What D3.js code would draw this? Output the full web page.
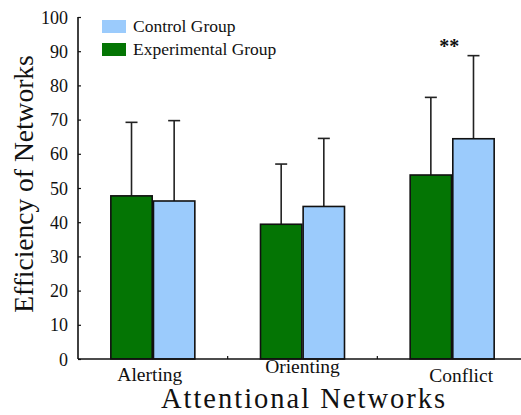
<!DOCTYPE html>
<html>
<head>
<meta charset="utf-8">
<script src="https://cdn.jsdelivr.net/npm/d3@7"></script>
</head>
<body style="margin:0;background:#fff">
<script>
// data
const categories = ["Alerting", "Orienting", "Conflict"];
const groups = ["Experimental Group", "Control Group"];
const experimental = [47.7, 39.4, 53.8];
const experimentalErr = [21.5, 17.6, 22.7];
const control = [46.2, 44.6, 64.4];
const controlErr = [23.5, 19.9, 24.3];
const yTicks = [0, 10, 20, 30, 40, 50, 60, 70, 80, 90, 100];
const significance = ["", "", "**"];

const serif = "'Liberation Serif', 'Times New Roman', Times, serif";
const svgWidth = 521;
const svgHeight = 415;
const margin = { top: 17, right: -6, bottom: 56, left: 78 };
const width = svgWidth - margin.left - margin.right;
const height = svgHeight - margin.top - margin.bottom;
// the category labels in the original sit a little unevenly
const labelShift = [[-3, 0], [0, -8], [9, 1]];

const color = d3.scaleOrdinal().domain(groups).range(["#047504", "#9bcbfc"]);

var svg = d3.select("body")
  .append("svg")
  .attr("width", svgWidth)
  .attr("height", svgHeight)
  .style("display", "block");

var g = svg.append("g")
  .attr("transform", "translate(" + margin.left + "," + margin.top + ")");

var x = d3.scaleBand().domain(categories).range([0, width]).padding(0);
var xInner = d3.scaleBand().domain(groups).range([-42, 42]).paddingInner(0.03);
var y = d3.scaleLinear().domain([0, 100]).range([height, 0]);

// rows for bars
var rows = [];
categories.forEach(function (c, i) {
  rows.push({ cat: c, group: groups[0], value: experimental[i], err: experimentalErr[i] });
  rows.push({ cat: c, group: groups[1], value: control[i], err: controlErr[i] });
});

// error bars (drawn first so the bar covers the lower half)
var errs = g.append("g").attr("class", "errors")
  .selectAll("g")
  .data(rows)
  .enter()
  .append("g")
  .attr("transform", function (d) {
    return "translate(" + (x(d.cat) + x.bandwidth() / 2 + xInner(d.group) + xInner.bandwidth() / 2) + ",0)";
  });
errs.append("line")
  .attr("x1", 0).attr("x2", 0)
  .attr("y1", function (d) { return y(d.value); })
  .attr("y2", function (d) { return y(d.value + d.err); })
  .attr("stroke", "#222")
  .attr("stroke-width", 1.6);
errs.append("line")
  .attr("x1", -6).attr("x2", 6)
  .attr("y1", function (d) { return y(d.value + d.err); })
  .attr("y2", function (d) { return y(d.value + d.err); })
  .attr("stroke", "#222")
  .attr("stroke-width", 1.6);

// bars
g.append("g").attr("class", "bars")
  .selectAll("rect")
  .data(rows)
  .enter()
  .append("rect")
  .attr("x", function (d) { return x(d.cat) + x.bandwidth() / 2 + xInner(d.group); })
  .attr("width", xInner.bandwidth())
  .attr("y", function (d) { return y(d.value); })
  .attr("height", function (d) { return y(0) - y(d.value); })
  .attr("fill", function (d) { return color(d.group); })
  .attr("stroke", "#111")
  .attr("stroke-width", 1.6);

// y axis
var yAxis = g.append("g")
  .call(d3.axisLeft(y).tickValues(yTicks).tickSize(-3).tickPadding(10))
  .call(function (a) { a.select(".domain").attr("d", "M0," + y(100) + "V" + y(0)).attr("stroke", "#111").attr("stroke-width", 1.6); });
yAxis.selectAll(".tick line").attr("stroke", "#111").attr("stroke-width", 1.2);
yAxis.selectAll(".tick text")
  .attr("fill", "#111")
  .attr("dy", "0.34em")
  .style("font-family", serif)
  .style("font-size", "18px");

// x axis baseline with small separators
g.append("line")
  .attr("x1", 0).attr("x2", width)
  .attr("y1", y(0)).attr("y2", y(0))
  .attr("stroke", "#111").attr("stroke-width", 1.6);
g.append("g")
  .selectAll("line")
  .data(categories.slice(1))
  .enter()
  .append("line")
  .attr("x1", function (d) { return x(d); })
  .attr("x2", function (d) { return x(d); })
  .attr("y1", y(0)).attr("y2", y(0) - 3)
  .attr("stroke", "#111").attr("stroke-width", 1.2);

// category labels
g.append("g")
  .selectAll("text")
  .data(categories)
  .enter()
  .append("text")
  .attr("x", function (d, i) { return x(d) + x.bandwidth() / 2 + labelShift[i][0]; })
  .attr("y", function (d, i) { return height + 22 + labelShift[i][1]; })
  .attr("text-anchor", "middle")
  .style("font-family", serif)
  .style("font-size", "19.5px")
  .attr("fill", "#111")
  .text(function (d) { return d; });

// significance
g.append("g")
  .selectAll("text")
  .data(categories)
  .enter()
  .append("text")
  .attr("x", function (d) { return x(d) + x.bandwidth() / 2 - 3; })
  .attr("y", 53 - margin.top)
  .attr("text-anchor", "middle")
  .style("font-family", serif)
  .style("font-size", "20px")
  .style("font-weight", "bold")
  .attr("fill", "#111")
  .text(function (d, i) { return significance[i]; });

// axis titles
svg.append("text")
  .attr("transform", "translate(33,184) rotate(-90)")
  .attr("text-anchor", "middle")
  .style("font-family", serif)
  .style("font-size", "27.5px")
  .attr("fill", "#111")
  .text("Efficiency of Networks");

svg.append("text")
  .attr("x", 304)
  .attr("y", 408)
  .attr("text-anchor", "middle")
  .style("font-family", serif)
  .style("font-size", "28.5px")
  .style("letter-spacing", "2px")
  .attr("fill", "#111")
  .text("Attentional Networks");

// legend
var legend = svg.append("g")
  .selectAll("g")
  .data(groups.slice().reverse())
  .enter()
  .append("g")
  .attr("transform", function (d, i) { return "translate(102," + (20 + i * 23) + ")"; });
legend.append("rect")
  .attr("width", 24)
  .attr("height", 13)
  .attr("fill", function (d) { return color(d); });
legend.append("text")
  .attr("x", 31)
  .attr("y", 12)
  .style("font-family", serif)
  .style("font-size", "17.5px")
  .attr("fill", "#111")
  .text(function (d) { return d; });
</script>
</body>
</html>
